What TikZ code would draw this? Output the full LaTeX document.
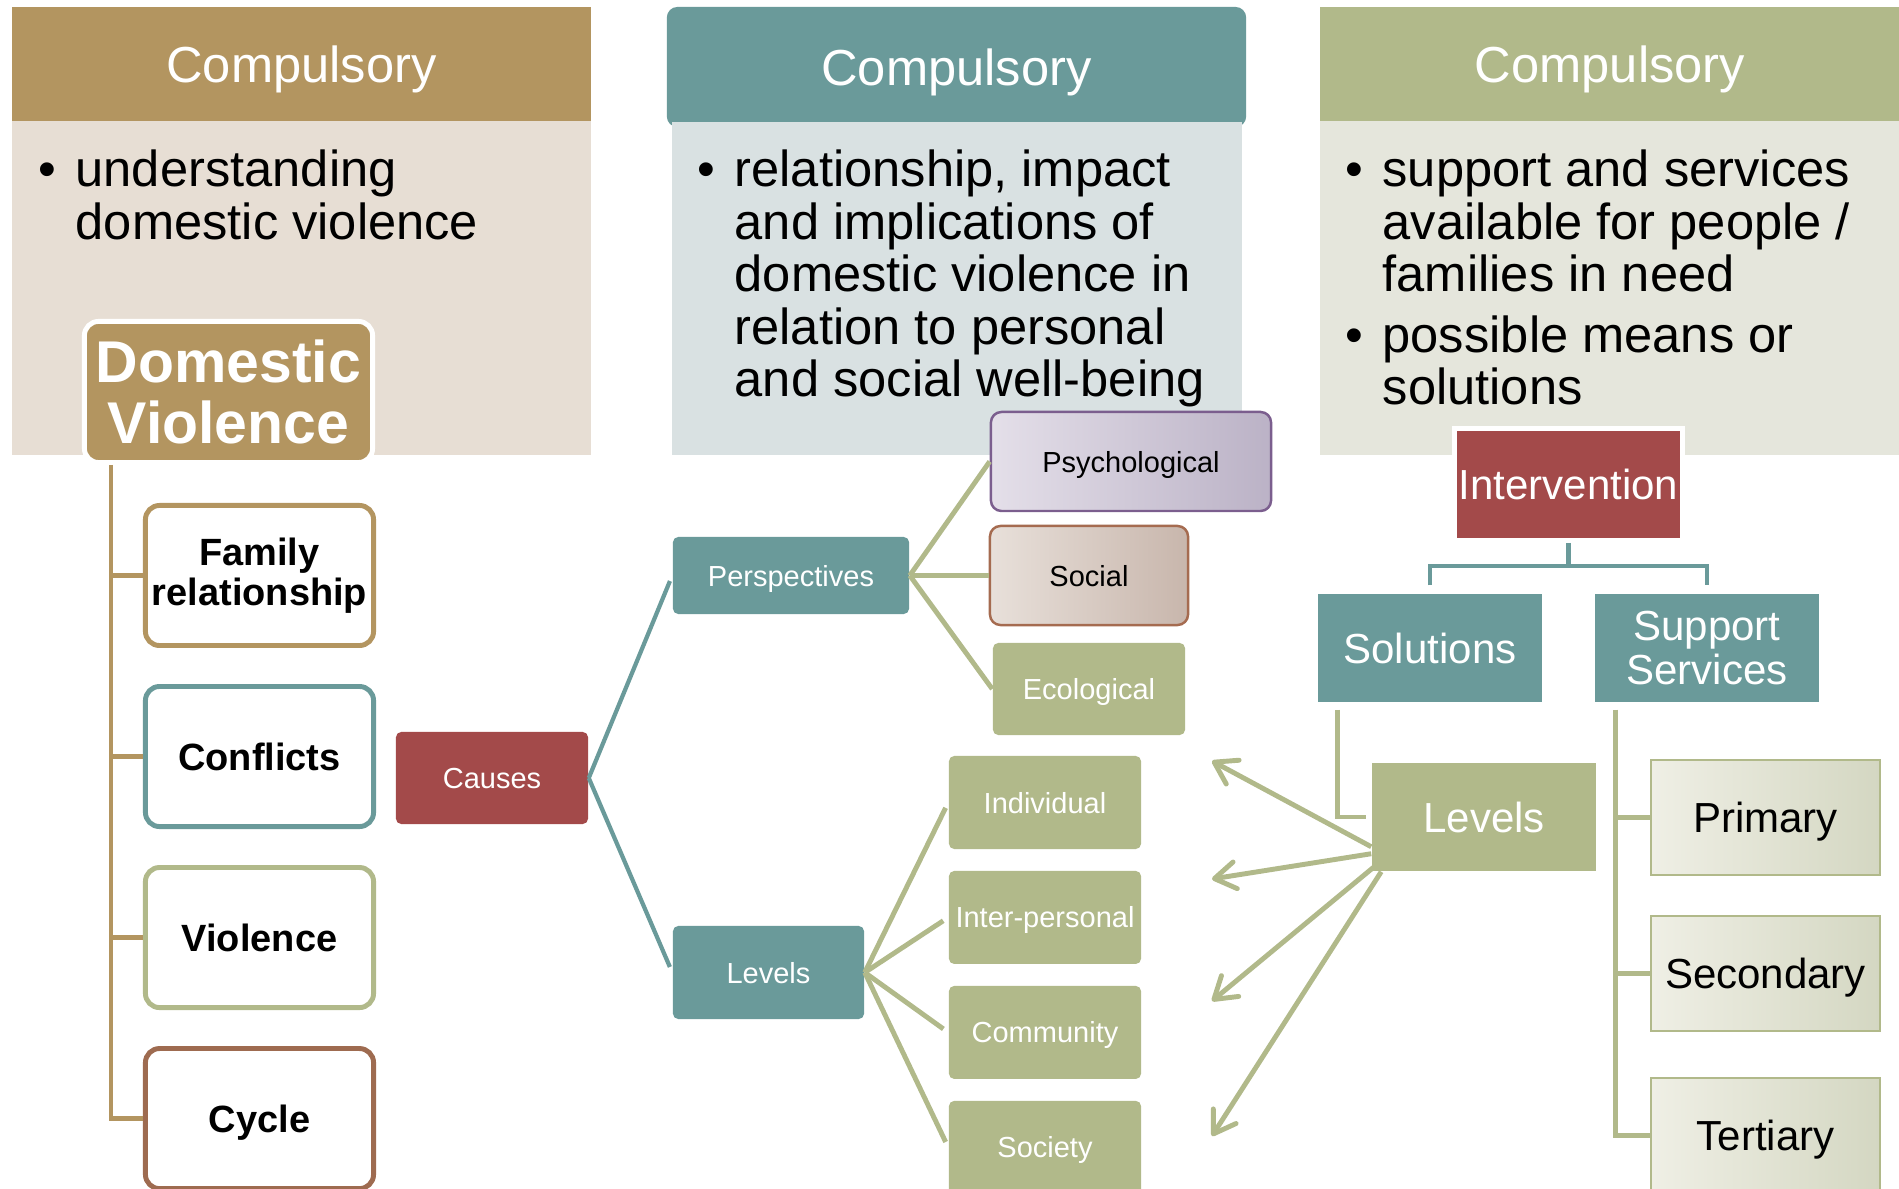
\documentclass[tikz,border=0pt]{standalone}
\usepackage{fontspec}
\setmainfont{Liberation Sans}
\usetikzlibrary{positioning,calc,arrows.meta}
\definecolor{dvbrown}{HTML}{B39560}
\definecolor{dvbeige}{HTML}{E7DED4}
\definecolor{dvteal}{HTML}{6A9A9A}
\definecolor{dvmist}{HTML}{D9E1E2}
\definecolor{dvolive}{HTML}{B1B98A}
\definecolor{dvsage}{HTML}{E5E6DC}
\definecolor{dvred}{HTML}{A34A4A}
\definecolor{dvrust}{HTML}{9E6B50}
\definecolor{psyline}{HTML}{7B5E8E}
\definecolor{psylight}{HTML}{E4DFE9}
\definecolor{psydark}{HTML}{BBB2C6}
\definecolor{socline}{HTML}{A56B50}
\definecolor{soclight}{HTML}{E8E0DA}
\definecolor{socdark}{HTML}{C8B6AC}
\definecolor{tierlight}{HTML}{EFEFE5}
\definecolor{tierdark}{HTML}{D4D7C2}
\newcommand{\dvbullet}{\makebox[0.37cm][l]{\textbullet}}
\newcommand{\dvindent}{\hspace*{0.37cm}}

\begin{document}
\begin{tikzpicture}[x=0.01cm, y=-0.01cm,
    header/.style={fill=#1, text=white, inner sep=0pt, minimum width=5.79cm, minimum height=1.14cm, text depth=0pt, font=\fontsize{14.4}{15}\selectfont},
    panel/.style={fill=#1, inner sep=0pt, minimum width=5.79cm, minimum height=3.34cm},
    bullets/.style={anchor=base west, inner sep=0pt, font=\fontsize{14.4}{14.85}\selectfont},
    title/.style={fill=dvbrown, draw=white, line width=1.4pt, rounded corners=4pt, minimum width=2.88cm, minimum height=1.41cm, inner sep=0pt, text=white, align=center, font=\bfseries\fontsize{16.75}{17.1}\selectfont},
    topic/.style={draw=#1, fill=white, line width=1.4pt, rounded corners=4pt, minimum width=2.28cm, minimum height=1.40cm, inner sep=0pt, align=center, font=\bfseries\fontsize{10.8}{11.4}\selectfont},
    leaf/.style={fill=#1, text=white, rounded corners=1.5pt, minimum width=1.92cm, minimum height=0.93cm, inner sep=0pt, text depth=0pt, font=\fontsize{8.25}{9}\selectfont},
    shadebox/.style n args={3}{draw=#1, left color=#2, right color=#3, line width=0.7pt, rounded corners=3pt, minimum height=0.99cm, inner sep=0pt, text depth=0pt, font=\fontsize{8.25}{9}\selectfont},
    bigbox/.style={fill=#1, text=white, minimum width=2.24cm, minimum height=1.08cm, inner sep=0pt, align=center, font=\fontsize{11.95}{12.5}\selectfont},
    tier/.style={draw=dvolive, line width=0.7pt, left color=tierlight, right color=tierdark, minimum width=2.29cm, minimum height=1.15cm, inner sep=0pt, text depth=0pt, font=\fontsize{11.95}{13}\selectfont},
    trunk/.style={draw=#1, line width=1.2pt},
    oarrow/.style={draw=dvolive, line width=1.4pt, -{Straight Barb[length=0.21cm, width=0.27cm, round]}}]

    \useasboundingbox (0,0) rectangle (1899,1189);
    \clip (0,0) rectangle (1899,1189);

    \node (p1) [panel=dvbeige] at (301.5,288) {};
    \node (h1) [header=dvbrown] at (301.5,64) {Compulsory};
    \node (h2) [header=dvteal, minimum height=1.20cm, rounded corners=3pt] at (956.5,67) {Compulsory};
    \node (p2) [panel=dvmist, minimum width=5.70cm, minimum height=3.33cm] at (957,288.5) {};
    \node (p3) [panel=dvsage] at (1610,288) {};
    \node (h3) [header=dvolive] at (1610,64) {Compulsory};

    \node (b1) [bullets] at (38,187) {\begin{tabular}[t]{@{}l@{}}\dvbullet understanding\\ \dvindent domestic violence\end{tabular}};
    \node (b2) [bullets] at (697,187) {\begin{tabular}[t]{@{}l@{}}\dvbullet relationship, impact\\ \dvindent and implications of\\ \dvindent domestic violence in\\ \dvindent relation to personal\\ \dvindent and social well-being\end{tabular}};
    \node (b3) [bullets] at (1345,187) {\begin{tabular}[t]{@{}l@{}}\dvbullet support and services\\ \dvindent available for people /\\ \dvindent families in need\\[0.08cm] \dvbullet possible means or\\ \dvindent solutions\end{tabular}};

    \node (dv) [title] at (228.5,392) {Domestic\\Violence};
    \node (fam) [topic=dvbrown] at (259.5,575.5) {Family\\relationship};
    \node (con) [topic=dvteal, below=0.36cm of fam, text depth=0pt] {Conflicts};
    \node (vio) [topic=dvolive, below=0.36cm of con, text depth=0pt] {Violence};
    \node (cyc) [topic=dvrust, below=0.36cm of vio, text depth=0pt] {Cycle};

    \coordinate (stem) at ([xshift=0.29cm]dv.south west);
    \draw[trunk=dvbrown] (stem) |- (cyc.west);
    \foreach \n in {fam,con,vio}
        \draw[trunk=dvbrown] (stem |- \n.west) -- (\n.west);

    \node (cause) [leaf=dvred, minimum height=0.92cm] at (492,778) {Causes};
    \node (persp) [leaf=dvteal, minimum width=2.36cm, minimum height=0.77cm] at (791,575.5) {Perspectives};
    \node (lev) [leaf=dvteal, minimum width=1.91cm] at (768.5,972.5) {Levels};
    \draw[trunk=dvteal, shorten >=0.06cm] (cause.east) -- (persp.west);
    \draw[trunk=dvteal, shorten >=0.06cm] (cause.east) -- (lev.west);

    \node (psy) [shadebox={psyline}{psylight}{psydark}, minimum width=2.80cm] at (1131,461.5) {Psychological};
    \node (soc) [shadebox={socline}{soclight}{socdark}, minimum width=1.98cm] at (1089,575.5) {Social};
    \node (eco) [leaf=dvolive, minimum height=0.92cm] at (1089,689) {Ecological};
    \foreach \n in {psy,soc,eco}
        \draw[trunk=dvolive, line width=1.4pt] (persp.east) -- (\n.west);

    \node (ind) [leaf=dvolive] at (1045,802.5) {Individual};
    \node (inter) [leaf=dvolive, below=0.205cm of ind] {Inter-personal};
    \node (comm) [leaf=dvolive, below=0.205cm of inter] {Community};
    \node (soci) [leaf=dvolive, below=0.205cm of comm] {Society};
    \foreach \n in {ind,inter,comm,soci}
        \draw[trunk=dvolive, line width=1.4pt, shorten >=0.06cm] (lev.east) -- (\n.west);

    \node (interv) [bigbox=dvred, draw=white, line width=1.4pt, minimum width=2.28cm, minimum height=1.12cm] at (1568.5,484.5) {Intervention};
    \node (sol) [bigbox=dvteal] at (1430,648) {Solutions};
    \node (sup) [bigbox=dvteal] at (1707,648) {Support\\Services};
    \coordinate (bar) at ([yshift=-0.23cm]interv.south);
    \draw[trunk=dvteal, line width=1.4pt] (interv.south) -- (bar);
    \draw[trunk=dvteal, line width=1.4pt] ([yshift=0.08cm]sol.north) |- (bar) -| ([yshift=0.08cm]sup.north);

    \node (lvr) [bigbox=dvolive] at (1484,817) {Levels};
    \draw[trunk=dvolive, line width=1.4pt] ([xshift=0.2cm, yshift=-0.07cm]sol.south west) |- ([xshift=-0.05cm]lvr.west);

    \node (pri) [tier] at (1765.5,817.5) {Primary};
    \node (sec) [tier] at (1765.5,973.5) {Secondary};
    \node (ter) [tier] at (1765.5,1135.5) {Tertiary};
    \coordinate (spine) at ([xshift=0.21cm, yshift=-0.07cm]sup.south west);
    \draw[trunk=dvolive, line width=1.4pt] (spine) |- (ter.west);
    \foreach \n in {pri,sec}
        \draw[trunk=dvolive, line width=1.4pt] (spine |- \n.west) -- (\n.west);

    \coordinate (t1) at (1212,761);
    \coordinate (t2) at (1212,879);
    \coordinate (t3) at (1212,1001);
    \coordinate (t4) at (1212,1136);
    \foreach \t/\dx/\dy in {1/0/-25,2/0/-18,3/3/-5,4/10/0}
        \draw[oarrow] ($(lvr.south west)+(\dx,\dy)$) -- (t\t);
\end{tikzpicture}
\end{document}
